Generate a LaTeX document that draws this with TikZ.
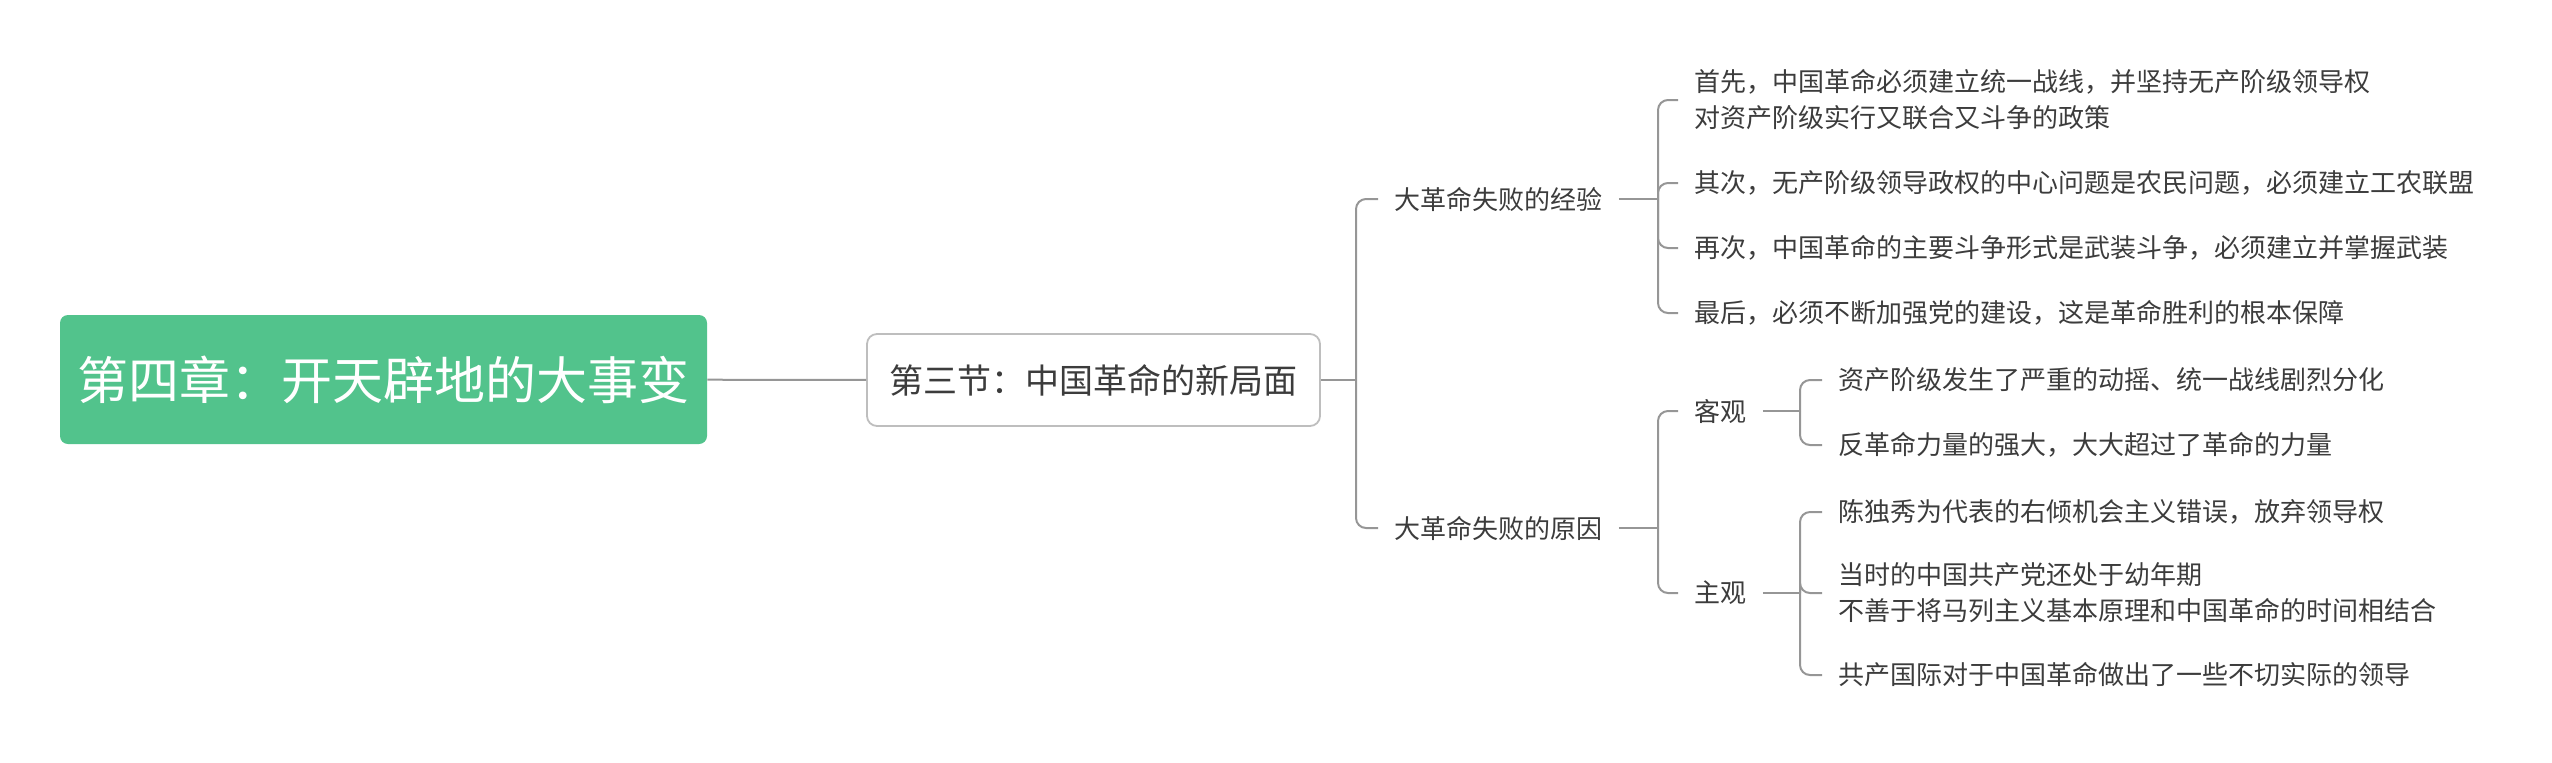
\documentclass[tikz,border=0pt]{standalone}
\usepackage{fontspec}
\setmainfont{Noto Sans CJK SC}
\definecolor{rootgreen}{RGB}{82,195,140}
\definecolor{linkgray}{RGB}{150,150,150}
\definecolor{boxgray}{RGB}{190,190,190}
\definecolor{textgray}{RGB}{60,60,60}

\begin{document}
\begin{tikzpicture}[x=0.5pt, y=-0.5pt,
    root/.style={rectangle, fill=rootgreen, rounded corners=4pt, text=white, inner sep=0pt,
                 minimum width=323.5pt, minimum height=64.5pt, font=\fontsize{25.5}{30}\selectfont},
    section/.style={rectangle, draw=boxgray, line width=0.9pt, fill=white, rounded corners=5pt,
                 text=textgray, minimum width=226.5pt, minimum height=46pt, font=\fontsize{17}{20}\selectfont},
    leaf/.style={anchor=west, inner xsep=8pt, inner ysep=2pt, align=left, text=textgray,
                 font=\fontsize{13}{18}\selectfont},
    link/.style={draw=linkgray, line width=1pt, rounded corners=5pt}
]
\useasboundingbox (0,0) rectangle (2552,762);

\node[root]    (root) at (383.5,379.5) {第四章：开天辟地的大事变};
\node[section] (sec)  at (1093.5,380)  {第三节：中国革命的新局面};

% second level
\node[leaf] (exp)   at (1378,199) {大革命失败的经验};
\node[leaf] (cause) at (1378,528) {大革命失败的原因};

% lessons
\node[leaf] (exp1) at (1678,100) {首先，中国革命必须建立统一战线，并坚持无产阶级领导权\\对资产阶级实行又联合又斗争的政策};
\node[leaf] (exp2) at (1678,183) {其次，无产阶级领导政权的中心问题是农民问题，必须建立工农联盟};
\node[leaf] (exp3) at (1678,248) {再次，中国革命的主要斗争形式是武装斗争，必须建立并掌握武装};
\node[leaf] (exp4) at (1678,313) {最后，必须不断加强党的建设，这是革命胜利的根本保障};

% causes
\node[leaf] (obj)  at (1678,411) {客观};
\node[leaf] (subj) at (1678,593) {主观};
\node[leaf] (obj1) at (1822,380) {资产阶级发生了严重的动摇、统一战线剧烈分化};
\node[leaf] (obj2) at (1822,445) {反革命力量的强大，大大超过了革命的力量};
\node[leaf] (subj1) at (1822,512) {陈独秀为代表的右倾机会主义错误，放弃领导权};
\node[leaf] (subj2) at (1822,593) {当时的中国共产党还处于幼年期\\不善于将马列主义基本原理和中国革命的时间相结合};
\node[leaf] (subj3) at (1822,675) {共产国际对于中国革命做出了一些不切实际的领导};

% bracket joints
\coordinate (b0) at (1356,380);
\coordinate (b1) at (1658,199);
\coordinate (b2) at (1658,528);
\coordinate (b3) at (1800,411);
\coordinate (b4) at (1800,593);

\draw[link] (root) -- (sec);
\draw[link] (sec) -- (b0);
\foreach \n in {exp,cause} \draw[link] (b0) |- (\n.west);
\draw[link] (exp) -- (b1);
\foreach \n in {exp1,exp2,exp3,exp4} \draw[link] (b1) |- (\n.west);
\draw[link] (cause) -- (b2);
\foreach \n in {obj,subj} \draw[link] (b2) |- (\n.west);
\draw[link] (obj) -- (b3);
\foreach \n in {obj1,obj2} \draw[link] (b3) |- (\n.west);
\draw[link] (subj) -- (b4);
\foreach \n in {subj1,subj2,subj3} \draw[link] (b4) |- (\n.west);
\end{tikzpicture}
\end{document}
